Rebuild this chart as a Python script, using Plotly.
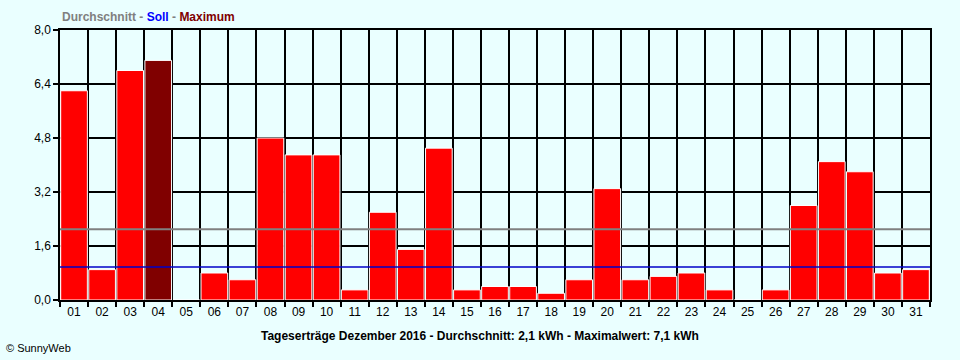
import plotly.graph_objects as go

days = [f"{d:02d}" for d in range(1, 32)]
values = [6.2, 0.9, 6.8, 7.1, 0.0, 0.8, 0.6, 4.8, 4.3, 4.3, 0.3, 2.6, 1.5, 4.5, 0.3, 0.4,
          0.4, 0.2, 0.6, 3.3, 0.6, 0.7, 0.8, 0.3, 0.0, 0.3, 2.8, 4.1, 3.8, 0.8, 0.9]
average = 2.1
soll = 0.98
y_ticks = [0.0, 1.6, 3.2, 4.8, 6.4, 8.0]
y_tick_labels = ["0,0", "1,6", "3,2", "4,8", "6,4", "8,0"]

BG = "#EAFFFF"
max_val = max(values)
colors = ["#800000" if v == max_val else "#FF0000" for v in values]

fig = go.Figure()
fig.add_trace(go.Bar(
    x=days, y=values,
    marker=dict(color=colors, line=dict(color="#FFFFFF", width=1)),
    hoverinfo="x+y",
))

fig.add_shape(type="line", xref="paper", yref="y", x0=0, x1=1, y0=average, y1=average,
              line=dict(color="#808080", width=2), layer="above")
fig.add_shape(type="line", xref="paper", yref="y", x0=0, x1=1, y0=soll, y1=soll,
              line=dict(color="#0000C8", width=1.5), layer="above")

FAM = "Liberation Sans, Arial, sans-serif"
font = dict(family=FAM, size=12, color="#000000")

fig.update_layout(
    width=960, height=360,
    paper_bgcolor=BG, plot_bgcolor=BG,
    margin=dict(l=60, r=30, t=30, b=60),
    bargap=0.05,
    showlegend=False,
    font=font,
    xaxis=dict(
        type="category", tickson="boundaries",
        showgrid=True, gridcolor="#000000", gridwidth=1.5,
        ticks="outside", ticklen=5, tickcolor="#000000", tickwidth=1.5,
        showline=True, linecolor="#000000", linewidth=1.5, mirror=True,
        tickfont=dict(family=FAM, size=12, color="#000000"),
        fixedrange=True,
    ),
    yaxis=dict(
        range=[0, 8], tickvals=y_ticks, ticktext=y_tick_labels,
        showgrid=True, gridcolor="#000000", gridwidth=1.5,
        ticks="outside", ticklen=5, tickcolor="#000000", tickwidth=1.5,
        showline=True, linecolor="#000000", linewidth=1.5, mirror=True,
        zeroline=False,
        tickfont=dict(family=FAM, size=12, color="#000000"),
        fixedrange=True,
    ),
    annotations=[
        dict(xref="paper", yref="paper", x=0, y=1, yshift=13, xanchor="left", yanchor="middle",
             showarrow=False,
             text="<b><span style='color:#808080'>Durchschnitt</span>"
                  "<span style='color:#808080'> - </span>"
                  "<span style='color:#0000FF'>Soll</span>"
                  "<span style='color:#808080'> - </span>"
                  "<span style='color:#800000'>Maximum</span></b>",
             font=dict(family=FAM, size=12)),
        dict(xref="paper", yref="paper", x=0.483, y=0, yshift=-36, xanchor="center", yanchor="middle",
             showarrow=False,
             text="<b>Tageserträge Dezember 2016 - Durchschnitt: 2,1 kWh - Maximalwert: 7,1 kWh</b>",
             font=dict(family=FAM, size=12, color="#000000")),
        dict(xref="paper", yref="paper", x=-60/870, y=0, xshift=4, yshift=-48, xanchor="left",
             yanchor="middle", showarrow=False,
             text="© SunnyWeb",
             font=dict(family=FAM, size=11, color="#000000")),
    ],
)

fig.write_html("out.html", config={"displayModeBar": False},
               post_script="document.body.style.margin='0';document.body.style.overflow='hidden';")
